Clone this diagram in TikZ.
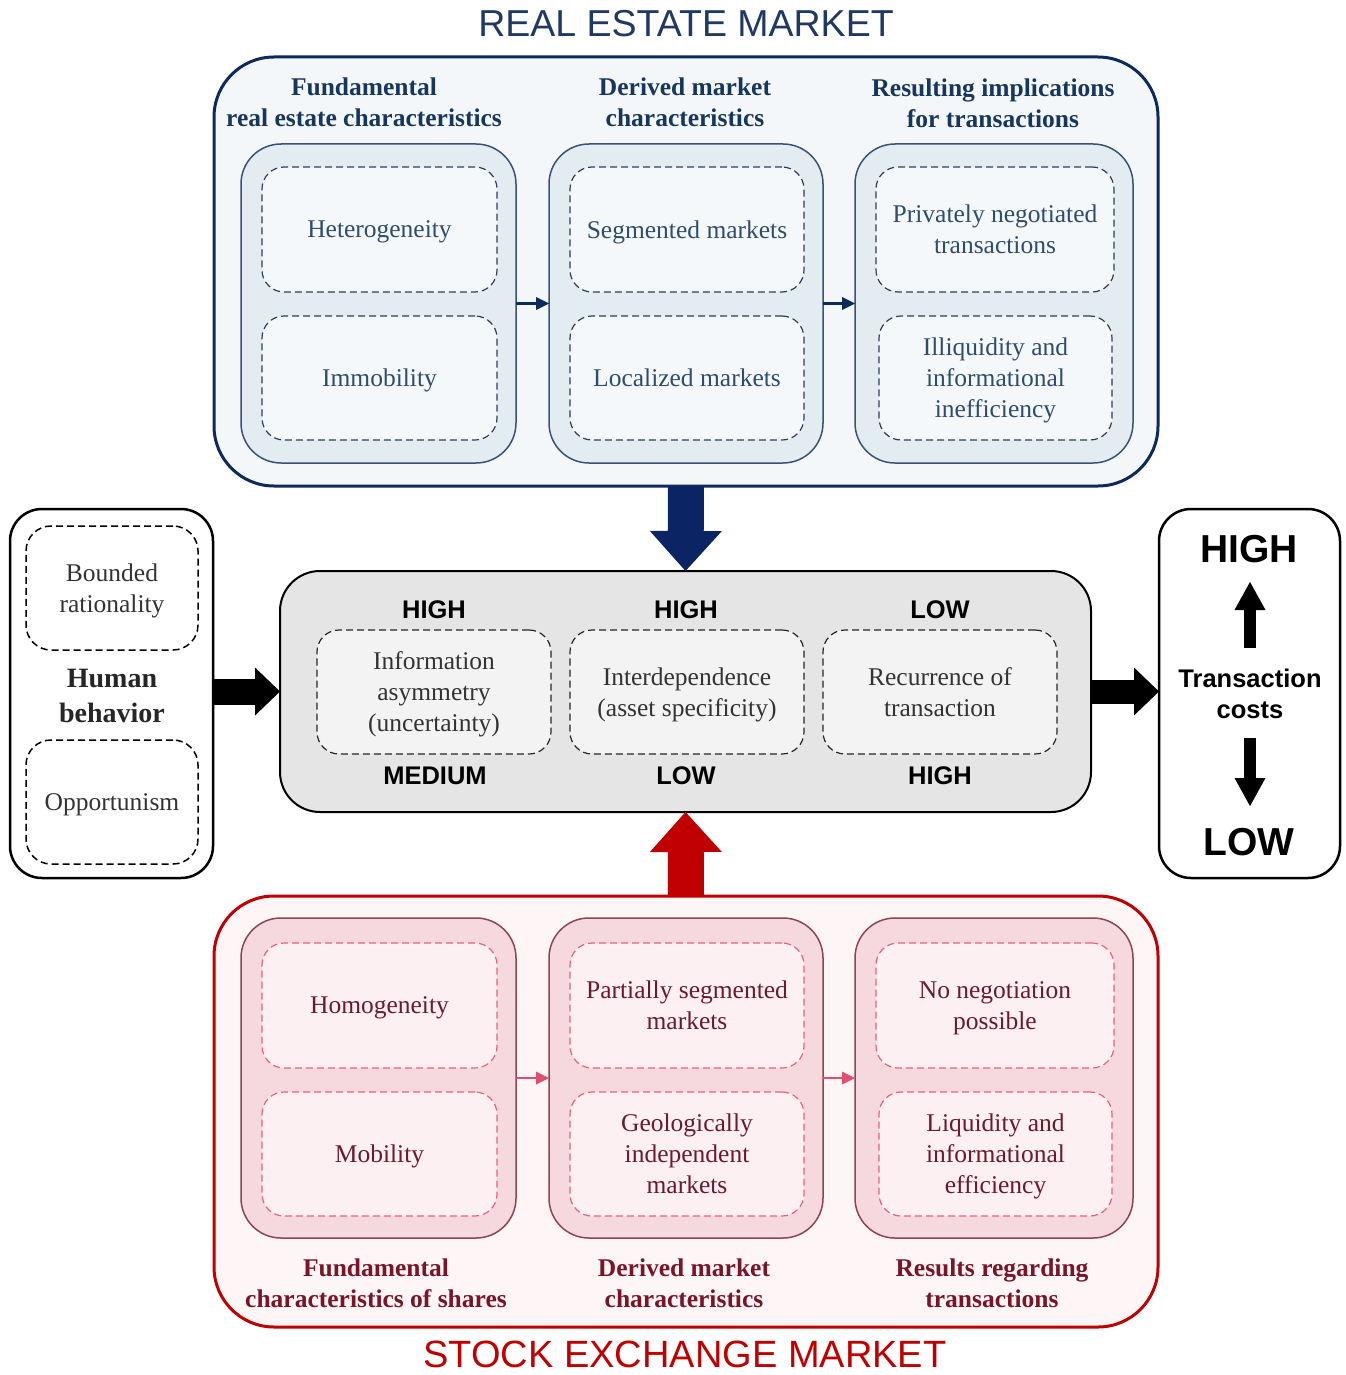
\documentclass[tikz,border=0pt]{standalone}
\usepackage{fontspec}
\setmainfont{Liberation Serif}
\newfontfamily\sansf{Liberation Sans}
\usetikzlibrary{arrows.meta}
\definecolor{navyB}{HTML}{0E2A5C}
\definecolor{navyT}{HTML}{1F3864}
\definecolor{navyH}{HTML}{17365D}
\definecolor{blueTxt}{HTML}{2F4B6E}
\definecolor{blueBg}{HTML}{F3F7F9}
\definecolor{colBF}{HTML}{E3ECF1}
\definecolor{colBB}{HTML}{3A5275}
\definecolor{dashBB}{HTML}{2D3E5A}
\definecolor{dashBF}{HTML}{F4F8FA}
\definecolor{navyArrow}{HTML}{0A2464}
\definecolor{grayF}{HTML}{E5E5E5}
\definecolor{grayD}{HTML}{F3F3F3}
\definecolor{redB}{HTML}{C00000}
\definecolor{redBg}{HTML}{FDF5F6}
\definecolor{redColF}{HTML}{F5D9DF}
\definecolor{redColB}{HTML}{8E4457}
\definecolor{redDashB}{HTML}{E8627D}
\definecolor{redDashF}{HTML}{FCF0F2}
\definecolor{redTxt}{HTML}{6B1A2E}
\definecolor{redH}{HTML}{7A1428}
\definecolor{redSmall}{HTML}{E0506E}
\begin{document}
\begin{tikzpicture}[x=1pt,y=-1pt,
  box/.style={rectangle, inner sep=0pt, outer sep=0pt, align=center},
  bodyfont/.style={font=\fontsize{25.5}{31}\selectfont, text depth=0pt},
  headfont/.style={font=\fontsize{25.5}{31}\selectfont\bfseries},
  sansbold/.style={font=\sansf\fontsize{25.5}{31}\selectfont\bfseries},
  dashpat/.style={dash pattern=on 7pt off 4pt},
  outerTop/.style={box, draw=navyB, line width=3pt, fill=blueBg, rounded corners=60pt},
  colTop/.style={box, draw=colBB, line width=1.5pt, fill=colBF, rounded corners=40pt},
  dashTop/.style={box, draw=dashBB, dashpat, line width=1.2pt, fill=dashBF, rounded corners=22pt, bodyfont, text=blueTxt},
  outerBot/.style={box, draw=redB, line width=3pt, fill=redBg, rounded corners=60pt},
  colBot/.style={box, draw=redColB, line width=1.5pt, fill=redColF, rounded corners=40pt},
  dashBot/.style={box, draw=redDashB, dashpat, line width=1.2pt, fill=redDashF, rounded corners=22pt, bodyfont, text=redTxt},
  midDash/.style={box, draw=black!85, dashpat, line width=1.2pt, fill=grayD, rounded corners=22pt, bodyfont, text=black!80},
  sideDash/.style={box, draw=black, dashpat, line width=1.5pt, fill=white, rounded corners=25pt, bodyfont, text=black!80},
  sideBox/.style={box, draw=black, line width=2.5pt, fill=white, rounded corners=32pt},
  smallTop/.style={draw=navyB, line width=2.5pt, -{Triangle[length=13pt,width=13pt,line width=0pt]}},
  smallBot/.style={draw=redSmall, line width=2.5pt, -{Triangle[length=13pt,width=13pt,line width=0pt]}}
]
\useasboundingbox (0,0) rectangle (1345,1375);

% ---------- titles ----------
\node[box, text=navyT, text depth=0pt, font=\sansf\fontsize{37.5}{40}\selectfont] (ttop) at (686,23) {REAL ESTATE MARKET};
\node[box, text=redB, text depth=0pt, font=\sansf\fontsize{38}{40}\selectfont] (tbot) at (685,1354) {STOCK EXCHANGE MARKET};

% ---------- real estate market ----------
\node[outerTop, minimum width=944pt, minimum height=429pt] (top) at (686,271.5) {};
\node[box, headfont, text=navyH] (h1) at (364,102) {Fundamental\\real estate characteristics};
\node[box, headfont, text=navyH] (h2) at (685,102) {Derived market\\characteristics};
\node[box, headfont, text=navyH] (h3) at (993,103) {Resulting implications\\for transactions};

\node[colTop, minimum width=275pt, minimum height=319pt] (c1) at (378.5,303.5) {};
\node[colTop, minimum width=274pt, minimum height=319pt] (c2) at (686,303.5) {};
\node[colTop, minimum width=278pt, minimum height=319pt] (c3) at (994,303.5) {};

\node[dashTop, minimum width=235pt, minimum height=125pt] (d11) at (379.5,229.5) {Heterogeneity};
\node[dashTop, minimum width=235pt, minimum height=124pt] (d12) at (379.5,378) {Immobility};
\node[dashTop, minimum width=234pt, minimum height=125pt] (d21) at (687,229.5) {Segmented markets};
\node[dashTop, minimum width=234pt, minimum height=124pt] (d22) at (687,378) {Localized markets};
\node[dashTop, minimum width=238pt, minimum height=125pt] (d31) at (995,229.5) {Privately negotiated\\transactions};
\node[dashTop, minimum width=233pt, minimum height=124pt] (d32) at (995.5,378) {Illiquidity and\\informational\\inefficiency};

\draw[smallTop] (c1.east) -- (c2.west);
\draw[smallTop] (c2.east) -- (c3.west);

% ---------- middle ----------
\node[box, draw=black, line width=2pt, fill=grayF, rounded corners=40pt, minimum width=811pt, minimum height=241pt] (mid) at (685.5,691.5) {};
\node[midDash, minimum width=234pt, minimum height=124pt] (m1) at (434,692) {Information\\asymmetry\\(uncertainty)};
\node[midDash, minimum width=234pt, minimum height=124pt] (m2) at (687,692) {Interdependence\\(asset specificity)};
\node[midDash, minimum width=234pt, minimum height=124pt] (m3) at (940,692) {Recurrence of\\transaction};
\node[box, sansbold] (l1) at (434,610) {HIGH};
\node[box, sansbold] (l2) at (686,610) {HIGH};
\node[box, sansbold] (l3) at (940,610) {LOW};
\node[box, sansbold] (b1) at (435,776) {MEDIUM};
\node[box, sansbold] (b2) at (686,776) {LOW};
\node[box, sansbold] (b3) at (940,776) {HIGH};

% ---------- left box ----------
\node[sideBox, minimum width=203pt, minimum height=369pt] (left) at (111.5,693.5) {};
\node[sideDash, minimum width=172pt, minimum height=124pt] (s1) at (112,588) {Bounded\\rationality};
\node[sideDash, minimum width=172pt, minimum height=124pt] (s2) at (112,802) {Opportunism};
\node[box, font=\fontsize{28}{35}\selectfont\bfseries, text=black!85] (hb) at (112,695.5) {Human\\behavior};

% ---------- right box ----------
\node[sideBox, minimum width=181pt, minimum height=369pt] (right) at (1249.5,693.5) {};
\node[box, font=\sansf\fontsize{39}{40}\selectfont\bfseries] (rh) at (1249,549) {HIGH};
\node[box, sansbold] (rt) at (1250,693.5) {Transaction\\costs};
\node[box, font=\sansf\fontsize{39}{40}\selectfont\bfseries] (rl) at (1249,842) {LOW};
\coordinate (ua) at (1250,648);
\coordinate (ub) at (1250,582);
\coordinate (da) at (1250,738);
\coordinate (db) at (1250,806);
\draw[line width=12pt, -{Triangle[length=28pt,width=31pt,line width=0pt]}] (ua) -- (ub);
\draw[line width=12pt, -{Triangle[length=28pt,width=31pt,line width=0pt]}] (da) -- (db);

% ---------- big arrows ----------
\draw[draw=navyArrow, line width=36pt, -{Triangle[length=40pt,width=72pt,line width=0pt]}] (top.south) -- (mid.north);
\draw[line width=26pt, -{Triangle[length=25pt,width=48pt,line width=0pt]}] (left.east |- mid.west) -- (mid.west);
\draw[line width=24pt, -{Triangle[length=25pt,width=48pt,line width=0pt]}] (mid.east) -- (right.west |- mid.east);

% ---------- stock exchange market ----------
\node[outerBot, minimum width=944pt, minimum height=431pt] (bot) at (686,1111.5) {};
\draw[draw=redB, line width=36pt, -{Triangle[length=40pt,width=72pt,line width=0pt]}] (bot.north) -- (mid.south);

\node[colBot, minimum width=275pt, minimum height=320pt] (e1) at (378.5,1078) {};
\node[colBot, minimum width=274pt, minimum height=320pt] (e2) at (686,1078) {};
\node[colBot, minimum width=278pt, minimum height=320pt] (e3) at (994,1078) {};

\node[dashBot, minimum width=235pt, minimum height=125pt] (f11) at (379.5,1005.5) {Homogeneity};
\node[dashBot, minimum width=235pt, minimum height=124pt] (f12) at (379.5,1154) {Mobility};
\node[dashBot, minimum width=234pt, minimum height=125pt] (f21) at (687,1005.5) {Partially segmented\\markets};
\node[dashBot, minimum width=234pt, minimum height=124pt] (f22) at (687,1154) {Geologically\\independent\\markets};
\node[dashBot, minimum width=238pt, minimum height=125pt] (f31) at (995,1005.5) {No negotiation\\possible};
\node[dashBot, minimum width=233pt, minimum height=124pt] (f32) at (995.5,1154) {Liquidity and\\informational\\efficiency};

\draw[smallBot] (e1.east) -- (e2.west);
\draw[smallBot] (e2.east) -- (e3.west);

\node[box, headfont, text=redH] (g1) at (376,1283.5) {Fundamental\\characteristics of shares};
\node[box, headfont, text=redH] (g2) at (684,1283) {Derived market\\characteristics};
\node[box, headfont, text=redH] (g3) at (992,1283) {Results regarding\\transactions};
\end{tikzpicture}
\end{document}
